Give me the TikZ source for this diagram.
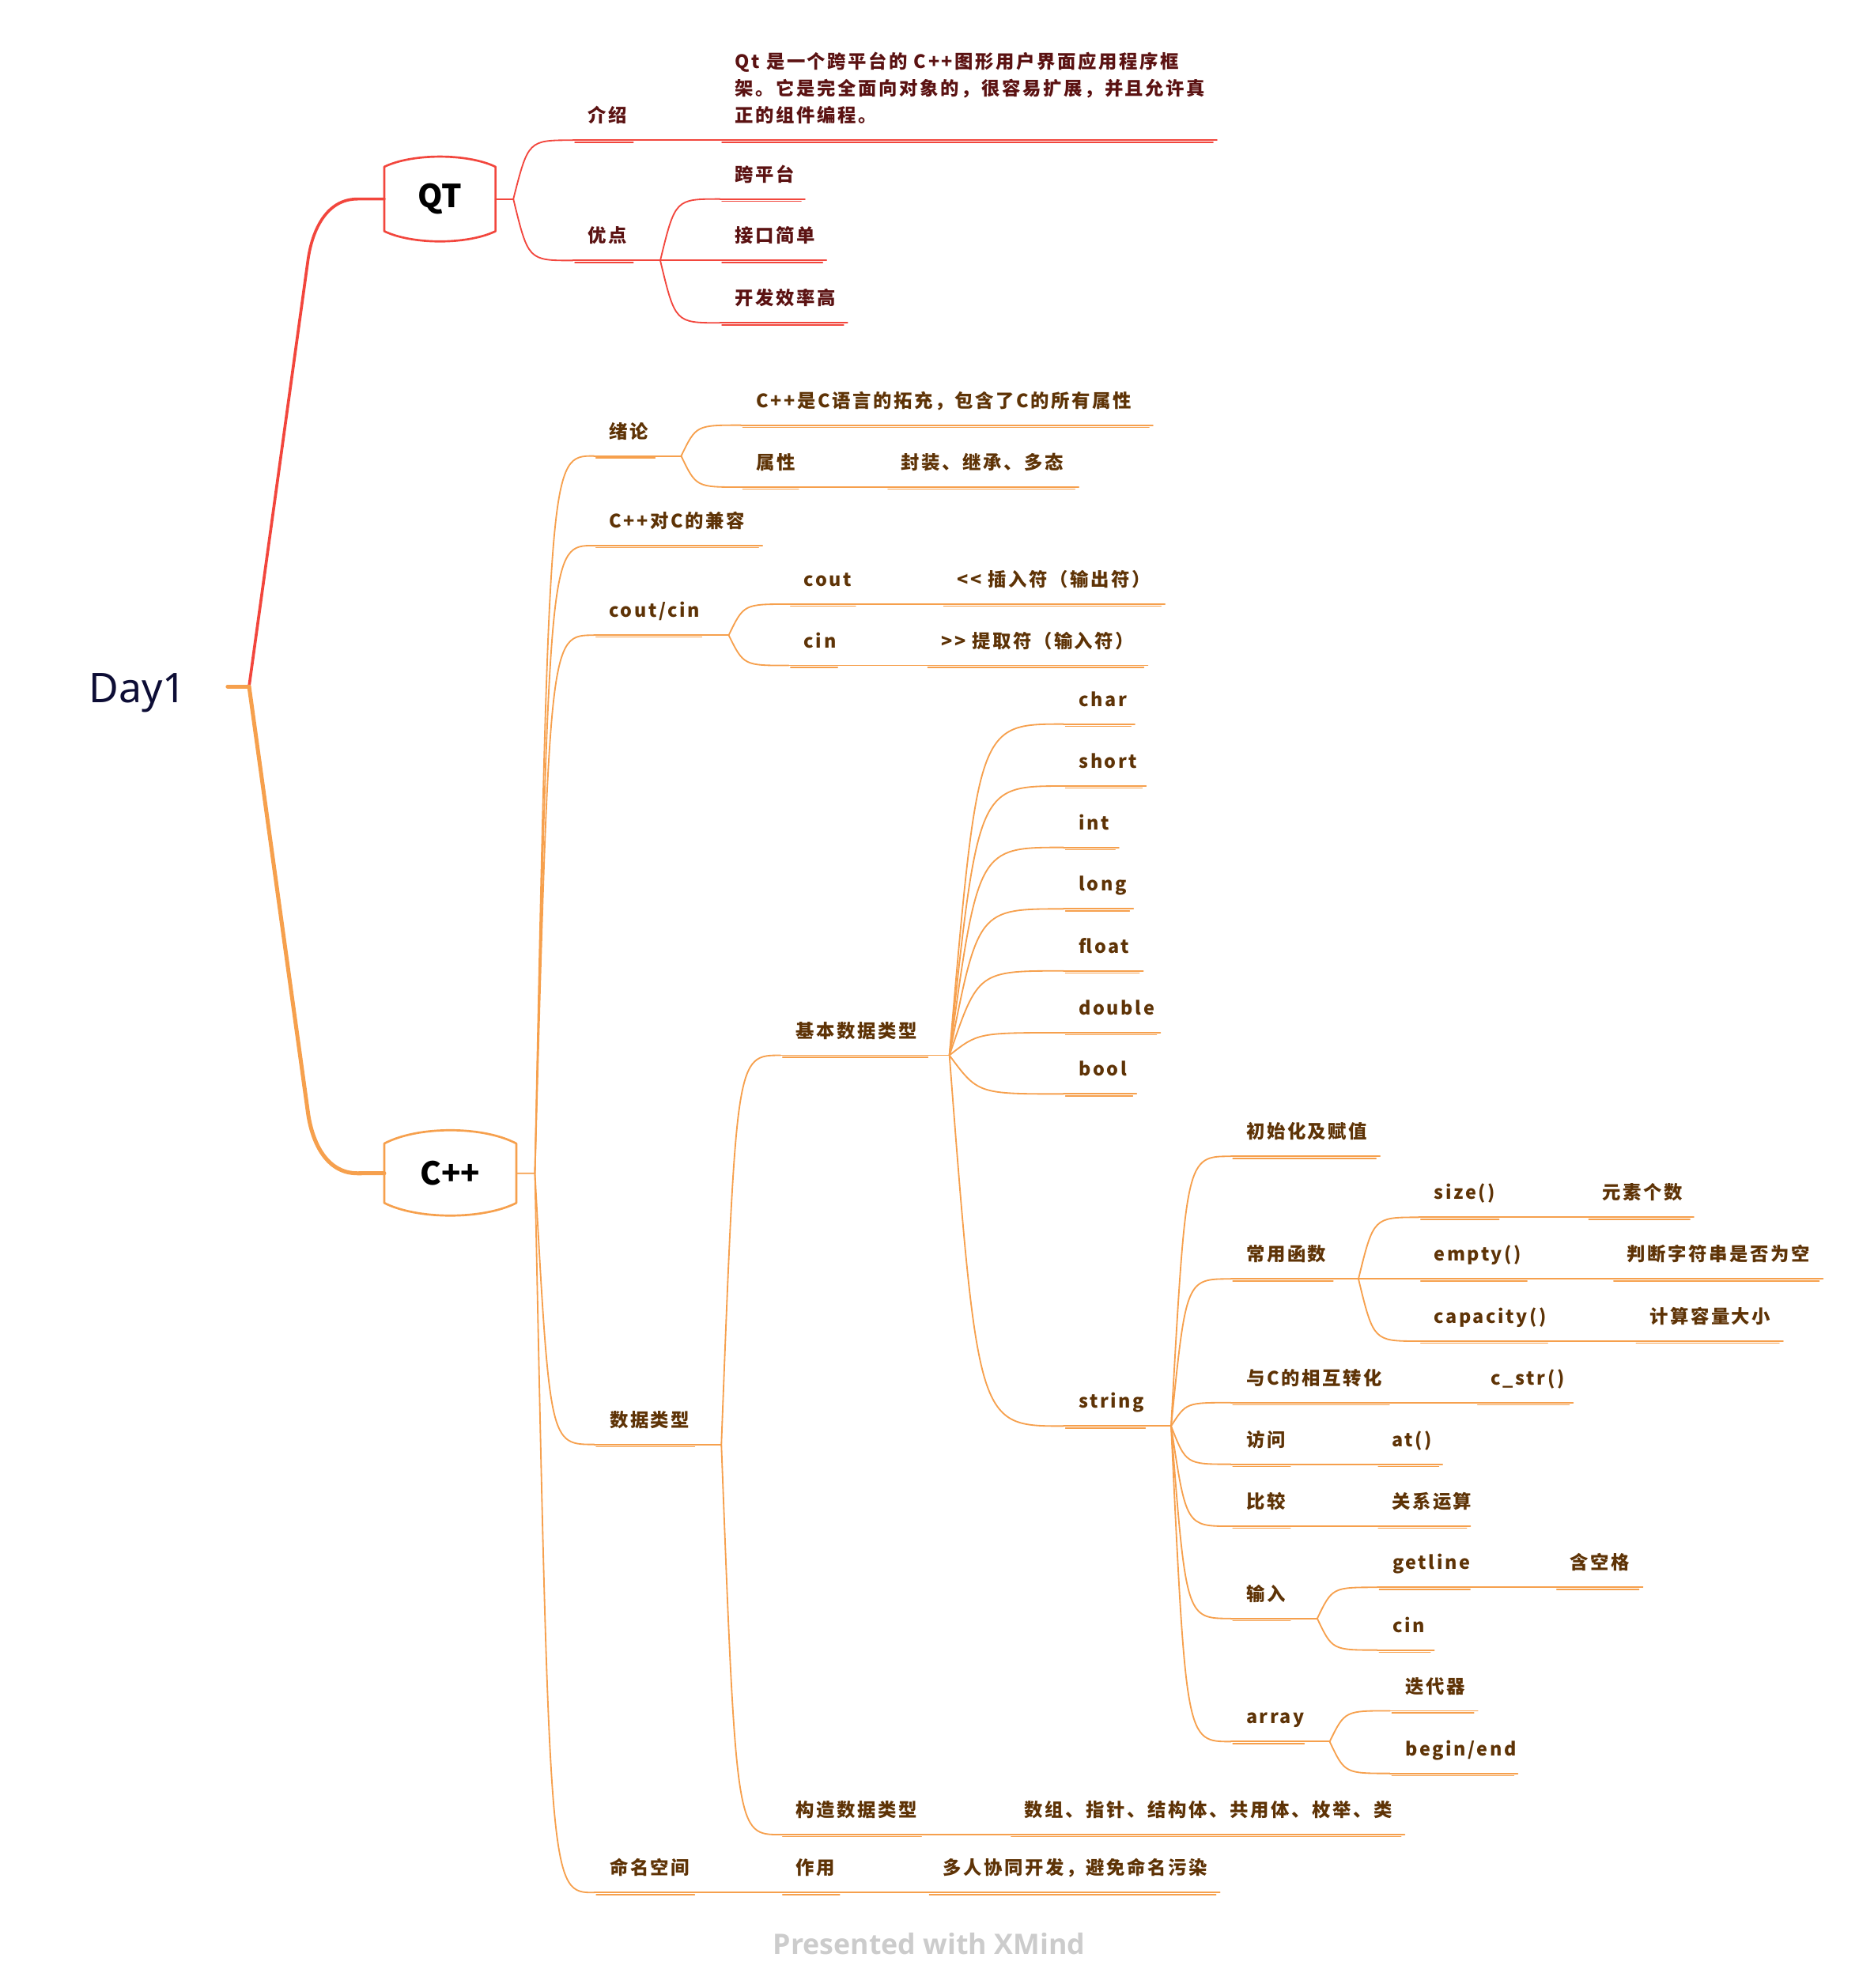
\documentclass[tikz,border=0pt]{standalone}
\usepackage{fontspec}
\usetikzlibrary{calc}
\newfontfamily\mmfont[LetterSpace=11]{Noto Sans CJK SC}
\newfontfamily\boxfont{Noto Sans CJK SC}
\newfontfamily\rootfont{Noto Sans}
\newfontfamily\xmfont{Open Sans}
\definecolor{qtred}{HTML}{F2463D}
\definecolor{cppor}{HTML}{F6A04D}
\definecolor{qttext}{HTML}{5B1212}
\definecolor{cpptext}{HTML}{5E3306}
\definecolor{rootnavy}{HTML}{0D0D35}
\definecolor{xmgray}{HTML}{CCCCCC}
\newcommand\mmtopic[6]{%
  \coordinate (#2-a) at (#3,#5);
  \coordinate (#2-b) at (#4,#5);
  \draw[#1 ul] (#2-a) -- (#2-b);
  \draw[#1 ul2] ([shift={(1.5,1.6)}]#2-a) -- ([shift={(-3,1.6)}]#2-b);
  \node[#1 lbl] (#2) at ({#3+11.7},{#5-14}) {#6};
}
\newcommand\mmconn[3]{\draw[#1 conn] let \p1=(#2), \p2=(#3) in (\p1) .. controls ({\x1+0.25*(\x2-\x1)},\y2) .. (\p2);}
\newcommand\mmline[3]{\draw[#1 conn] (#2) -- (#3);}
\begin{document}
\begin{tikzpicture}[x=0.48pt,y=-0.48pt,
  qt lbl/.style={anchor=base west, inner sep=0pt, text=qttext, font=\mmfont\bfseries\fontsize{7}{10.2}\selectfont},
  cpp lbl/.style={anchor=base west, inner sep=0pt, text=cpptext, font=\mmfont\bfseries\fontsize{7}{10.2}\selectfont},
  qt ul/.style={draw=qtred, line width=0.55pt, line cap=round},
  qt ul2/.style={draw=qtred, line width=0.4pt, line cap=round},
  cpp ul/.style={draw=cppor, line width=0.55pt, line cap=round},
  cpp ul2/.style={draw=cppor, line width=0.4pt, line cap=round},
  qt conn/.style={draw=qtred, line width=0.55pt, line cap=round},
  cpp conn/.style={draw=cppor, line width=0.55pt, line cap=round},
  qt root/.style={draw=qtred, line width=1.1pt, line cap=round},
  cpp root/.style={draw=cppor, line width=1.5pt, line cap=round},
  boxtext/.style={inner sep=0pt, text=black, font=\boxfont\bfseries\fontsize{12}{14}\selectfont},
  qt box/.style={draw=qtred, line width=0.8pt, line join=round},
  cpp box/.style={draw=cppor, line width=0.8pt, line join=round}
]
\useasboundingbox (0,0) rectangle (1466,1568.3);

% ---------- root ----------
\node[anchor=base west, inner sep=0pt, text=rootnavy, font=\rootfont\fontsize{15.5}{18}\selectfont] (root) at (69.6,554) {Day1};
\coordinate (rootS) at (179.6,541.5);
\coordinate (J) at (196.5,541.5);

% ---------- main boxes ----------
\node[boxtext, minimum width=41.7pt, minimum height=24pt] (qt) at (347.05,157) {QT};
\node[boxtext, minimum width=49.6pt, minimum height=22.1pt] (cpp) at (355.25,925.55) {C++};
\draw[qt box] (qt.north west) -- (qt.south west)
  .. controls ([shift={(-21.7,10.7)}]qt.south) and ([shift={(21.7,10.7)}]qt.south) .. (qt.south east)
  -- (qt.north east)
  .. controls ([shift={(21.7,-10.7)}]qt.north) and ([shift={(-21.7,-10.7)}]qt.north) .. cycle;
\draw[cpp box] (cpp.north west) -- (cpp.south west)
  .. controls ([shift={(-25.8,13.3)}]cpp.south) and ([shift={(25.8,13.3)}]cpp.south) .. (cpp.south east)
  -- (cpp.north east)
  .. controls ([shift={(25.8,-14)}]cpp.north) and ([shift={(-25.8,-14)}]cpp.north) .. cycle;

\draw[cpp root] (rootS) -- (J);
\draw[qt root] (J) -- (243,205) to[out=82,in=180] (282,157) -- (qt.west);
\draw[cpp root] (J) -- (243,878) to[out=-82,in=180] (282,925.6) -- (cpp.west);

% ---------- QT branch ----------
\coordinate (qtF) at (405,157);
\draw[qt conn] (qt.east) -- (qtF);
\mmtopic{qt}{jieshao}{452}{502.6}{110.6}{介绍}
\coordinate (qtdesc-a) at (568,110.6);
\coordinate (qtdesc-b) at (960,110.6);
\draw[qt ul] (qtdesc-a) -- (qtdesc-b);
\draw[qt ul2] ([shift={(1.5,1.6)}]qtdesc-a) -- ([shift={(-3,1.6)}]qtdesc-b);
\node[qt lbl, text width=200pt, align=left] (qtdesc) at (579.7,54.2) {Qt 是一个跨平台的 C++图形用户界面应用程序框\\架。它是完全面向对象的，很容易扩展，并且允许真\\正的组件编程。};
\mmtopic{qt}{youdian}{452}{502.6}{205.5}{优点}
\coordinate (youdianF) at (520.9,205.5);
\mmtopic{qt}{kuapingtai}{568}{635}{157}{跨平台}
\mmtopic{qt}{jiekou}{568}{652}{205.5}{接口简单}
\mmtopic{qt}{kaifa}{568}{668.6}{254.7}{开发效率高}

\mmconn{qt}{qtF}{jieshao-a}
\mmconn{qt}{qtF}{youdian-a}
\mmline{qt}{jieshao-b}{qtdesc-a}
\mmline{qt}{youdian-b}{youdianF}
\mmconn{qt}{youdianF}{kuapingtai-a}
\mmconn{qt}{youdianF}{jiekou-a}
\mmconn{qt}{youdianF}{kaifa-a}

% ---------- C++ branch ----------
\coordinate (cppF) at (422,925.6);
\draw[cpp conn] (cpp.east) -- (cppF);

\mmtopic{cpp}{xulun}{468.6}{519.8}{359.7}{绪论}
\coordinate (xulunF) at (537.4,359.7);
\mmtopic{cpp}{tuochong}{584.5}{909.5}{335.4}{C++是C语言的拓充，包含了C的所有属性}
\mmtopic{cpp}{shuxing}{584.5}{633}{384.3}{属性}
\mmtopic{cpp}{fengzhuang}{699}{851}{384.3}{封装、继承、多态}

\mmtopic{cpp}{jianrong}{468.6}{601.4}{430.4}{C++对C的兼容}

\mmtopic{cpp}{coutcin}{468.6}{556.6}{501.1}{cout/cin}
\coordinate (coutcinF) at (574.9,501.1);
\mmtopic{cpp}{cout}{622.2}{678}{476.6}{cout}
\mmtopic{cpp}{coutop}{743}{919}{476.6}{<{}< 插入符（输出符）}
\mmtopic{cpp}{cin}{622.2}{663.8}{525}{cin}
\mmtopic{cpp}{cinop}{730.4}{905.4}{525}{>{}> 提取符（输入符）}

\mmtopic{cpp}{shuju}{468.9}{551}{1139.5}{数据类型}
\coordinate (shujuF) at (569.1,1139.5);
\mmtopic{cpp}{jiben}{615.9}{735}{832.5}{基本数据类型}
\coordinate (jibenF) at (749,832.5);
\mmtopic{cpp}{tchar}{839.1}{895.2}{571.2}{char}
\mmtopic{cpp}{tshort}{839.1}{904.1}{620.1}{short}
\mmtopic{cpp}{tint}{839.1}{882.7}{668.5}{int}
\mmtopic{cpp}{tlong}{839.1}{894.1}{717}{long}
\mmtopic{cpp}{tfloat}{839.1}{901.8}{765.9}{float}
\mmtopic{cpp}{tdouble}{839.1}{915.4}{814.7}{double}
\mmtopic{cpp}{tbool}{839.1}{896.6}{863}{bool}
\mmtopic{cpp}{tstring}{839.1}{906.6}{1125}{string}
\coordinate (stringF) at (923.9,1125);

\mmtopic{cpp}{chushi}{971.1}{1088.6}{912.2}{初始化及赋值}
\mmtopic{cpp}{changyong}{971.1}{1054.7}{1008.9}{常用函数}
\coordinate (changyongF) at (1071.7,1008.9);
\mmtopic{cpp}{size}{1119.3}{1185.6}{960.3}{size()}
\mmtopic{cpp}{yuansu}{1251.9}{1336.2}{960.3}{元素个数}
\mmtopic{cpp}{empty}{1119.3}{1207.7}{1008.9}{empty()}
\mmtopic{cpp}{panduan}{1271.6}{1438.2}{1008.9}{判断字符串是否为空}
\mmtopic{cpp}{capacity}{1119.3}{1224}{1058}{capacity()}
\mmtopic{cpp}{jisuan}{1289.3}{1406.6}{1058}{计算容量大小}
\mmtopic{cpp}{zhuanhua}{971.1}{1099}{1106.5}{与C的相互转化}
\mmtopic{cpp}{cstr}{1164.2}{1241}{1106.5}{c\_str()}
\mmtopic{cpp}{fangwen}{971.1}{1021}{1155.1}{访问}
\mmtopic{cpp}{at}{1085.9}{1138}{1155.1}{at()}
\mmtopic{cpp}{bijiao}{971.1}{1021}{1204}{比较}
\mmtopic{cpp}{guanxi}{1085.9}{1160}{1204}{关系运算}
\mmtopic{cpp}{shuru}{971.1}{1021}{1276.8}{输入}
\coordinate (shuruF) at (1039.2,1276.8);
\mmtopic{cpp}{getline}{1086.6}{1162.8}{1252.2}{getline}
\mmtopic{cpp}{hankongge}{1226.6}{1296}{1252.2}{含空格}
\mmtopic{cpp}{cintwo}{1086.6}{1131.4}{1301.7}{cin}
\mmtopic{cpp}{array}{971.1}{1032}{1373.9}{array}
\coordinate (arrayF) at (1049,1373.9);
\mmtopic{cpp}{diedai}{1096.6}{1165.7}{1349.6}{迭代器}
\mmtopic{cpp}{beginend}{1096.6}{1197.3}{1399}{begin/end}

\mmtopic{cpp}{gouzao}{615.9}{729.9}{1447.3}{构造数据类型}
\mmtopic{cpp}{shuzu}{796.3}{1108.2}{1447.3}{数组、指针、结构体、共用体、枚举、类}

\mmtopic{cpp}{mingming}{468.9}{551}{1493}{命名空间}
\mmtopic{cpp}{zuoyong}{615.9}{665.4}{1493}{作用}
\mmtopic{cpp}{duoren}{731.7}{962.3}{1493}{多人协同开发，避免命名污染}

% connectors C++
\mmconn{cpp}{cppF}{xulun-a}
\mmconn{cpp}{cppF}{jianrong-a}
\mmconn{cpp}{cppF}{coutcin-a}
\mmconn{cpp}{cppF}{shuju-a}
\mmconn{cpp}{cppF}{mingming-a}

\mmline{cpp}{xulun-b}{xulunF}
\mmconn{cpp}{xulunF}{tuochong-a}
\mmconn{cpp}{xulunF}{shuxing-a}
\mmline{cpp}{shuxing-b}{fengzhuang-a}

\mmline{cpp}{coutcin-b}{coutcinF}
\mmconn{cpp}{coutcinF}{cout-a}
\mmconn{cpp}{coutcinF}{cin-a}
\mmline{cpp}{cout-b}{coutop-a}
\mmline{cpp}{cin-b}{cinop-a}

\mmline{cpp}{shuju-b}{shujuF}
\mmconn{cpp}{shujuF}{jiben-a}
\mmconn{cpp}{shujuF}{gouzao-a}
\mmline{cpp}{gouzao-b}{shuzu-a}

\mmline{cpp}{jiben-b}{jibenF}
\foreach \t in {tchar,tshort,tint,tlong,tfloat,tdouble,tbool,tstring}{\mmconn{cpp}{jibenF}{\t-a}}

\mmline{cpp}{tstring-b}{stringF}
\foreach \t in {chushi,changyong,zhuanhua,fangwen,bijiao,shuru,array}{\mmconn{cpp}{stringF}{\t-a}}

\mmline{cpp}{changyong-b}{changyongF}
\mmconn{cpp}{changyongF}{size-a}
\mmconn{cpp}{changyongF}{empty-a}
\mmconn{cpp}{changyongF}{capacity-a}
\mmline{cpp}{size-b}{yuansu-a}
\mmline{cpp}{empty-b}{panduan-a}
\mmline{cpp}{capacity-b}{jisuan-a}

\mmline{cpp}{zhuanhua-b}{cstr-a}
\mmline{cpp}{fangwen-b}{at-a}
\mmline{cpp}{bijiao-b}{guanxi-a}

\mmline{cpp}{shuru-b}{shuruF}
\mmconn{cpp}{shuruF}{getline-a}
\mmconn{cpp}{shuruF}{cintwo-a}
\mmline{cpp}{getline-b}{hankongge-a}

\mmline{cpp}{array-b}{arrayF}
\mmconn{cpp}{arrayF}{diedai-a}
\mmconn{cpp}{arrayF}{beginend-a}

\mmline{cpp}{mingming-b}{zuoyong-a}
\mmline{cpp}{zuoyong-b}{duoren-a}

% ---------- credit ----------
\node[anchor=base, inner sep=0pt, text=xmgray, font=\xmfont\bfseries\fontsize{10.7}{12}\selectfont] (credit) at (733,1542) {Presented with XMind};
\end{tikzpicture}
\end{document}
